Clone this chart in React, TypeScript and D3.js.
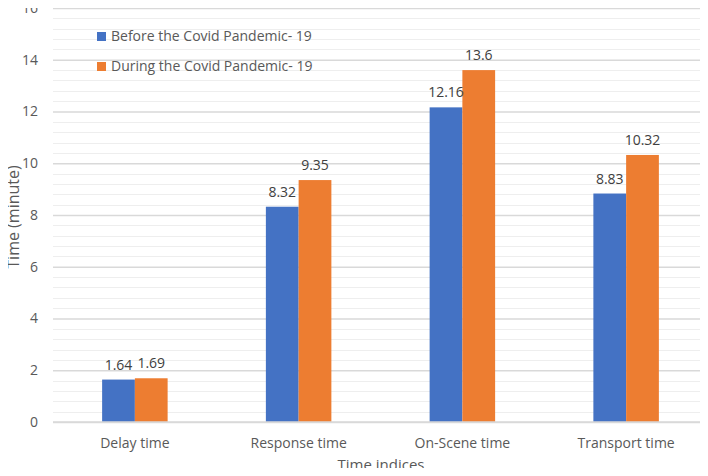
import { useEffect, useRef } from "react";
import * as d3 from "d3";

const categories = ["Delay time", "Response time", "On-Scene time", "Transport time"];
const seriesNames = ["Before the Covid Pandemic- 19", "During the Covid Pandemic- 19"];
const before = [1.64, 8.32, 12.16, 8.83];
const during = [1.69, 9.35, 13.6, 10.32];
const yTicks = [0, 2, 4, 6, 8, 10, 12, 14, 16];
const colors = ["#4472C4", "#ED7D31"];

const Chart = () => {
  const ref = useRef(null);

  useEffect(() => {
    const width = 708;
    const height = 476;
    const left = 53;
    const right = 708;
    const top = 8;
    const bottom = 422;
    const font = "'Open Sans', 'Noto Sans', sans-serif";
    const textColor = "#595959";

    d3.select(ref.current).selectAll("*").remove();
    const svg = d3
      .select(ref.current)
      .append("svg")
      .attr("width", width)
      .attr("height", height)
      .style("display", "block")
      .style("background", "#fff");

    const x = d3.scaleBand().domain(categories).range([left, right]).paddingInner(0.6).paddingOuter(0.3);
    const x1 = d3.scaleBand().domain(seriesNames).range([0, x.bandwidth()]);
    const y = d3.scaleLinear().domain([0, 16]).range([bottom, top]);

    // gridlines minori ogni 0.4
    const minor = d3.range(0, 16, 0.4).filter((v) => Math.abs(v / 2 - Math.round(v / 2)) > 0.01);
    svg
      .append("g")
      .selectAll("line")
      .data(minor)
      .join("line")
      .attr("x1", left)
      .attr("x2", right)
      .attr("y1", (d) => Math.round(y(d)) + 0.5)
      .attr("y2", (d) => Math.round(y(d)) + 0.5)
      .attr("stroke", "#EEEEEE")
      .attr("stroke-width", 1);

    // asse y
    const yAxis = d3.axisLeft(y).tickValues(yTicks).tickSize(-(right - left)).tickPadding(15);
    const gy = svg.append("g").attr("transform", `translate(${left},0)`).call(yAxis);
    gy.select(".domain").remove();
    gy.selectAll(".tick line").attr("stroke", "#D9D9D9").attr("stroke-width", 1.5);
    gy.selectAll(".tick text").attr("fill", textColor).style("font-family", font).style("font-size", "14px");

    const groups = svg
      .append("g")
      .selectAll("g")
      .data(categories)
      .join("g")
      .attr("transform", (d) => `translate(${x(d)},0)`);

    const vals = [before, during];
    groups
      .selectAll("rect")
      .data((d, i) => vals.map((s, k) => ({ k, v: s[i] })))
      .join("rect")
      .attr("x", (d) => x1(seriesNames[d.k]))
      .attr("y", (d) => y(d.v))
      .attr("width", x1.bandwidth())
      .attr("height", (d) => y(0) - y(d.v))
      .attr("fill", (d) => colors[d.k]);

    groups
      .selectAll("text")
      .data((d, i) => vals.map((s, k) => ({ k, v: s[i] })))
      .join("text")
      .attr("x", (d) => x1(seriesNames[d.k]) + x1.bandwidth() / 2)
      .attr("y", (d) => y(d.v) - 10)
      .attr("text-anchor", "middle")
      .attr("fill", "#404040")
      .style("font-family", font)
      .style("font-size", "14px")
      .text((d) => String(d.v));

    // asse x
    svg
      .append("line")
      .attr("x1", left)
      .attr("x2", right)
      .attr("y1", y(0))
      .attr("y2", y(0))
      .attr("stroke", "#D9D9D9")
      .attr("stroke-width", 1.5);

    svg
      .append("g")
      .selectAll("text")
      .data(categories)
      .join("text")
      .attr("x", (d) => x(d) + x.bandwidth() / 2)
      .attr("y", 448)
      .attr("text-anchor", "middle")
      .attr("fill", textColor)
      .style("font-family", font)
      .style("font-size", "14px")
      .text((d) => d);

    svg
      .append("text")
      .attr("x", 381)
      .attr("y", 470)
      .attr("text-anchor", "middle")
      .attr("fill", textColor)
      .style("font-family", font)
      .style("font-size", "15px")
      .text("Time indices");

    svg
      .append("text")
      .attr("transform", "translate(19,217) rotate(-90)")
      .attr("text-anchor", "middle")
      .attr("fill", textColor)
      .style("font-family", font)
      .style("font-size", "16px")
      .text("Time (minute)");

    // legenda
    const legend = svg
      .append("g")
      .selectAll("g")
      .data(seriesNames)
      .join("g")
      .attr("transform", (d, i) => `translate(97,${32 + i * 30})`);
    legend.append("rect").attr("width", 9).attr("height", 9).attr("fill", (d, i) => colors[i]);
    legend
      .append("text")
      .attr("x", 14)
      .attr("y", 9)
      .attr("fill", textColor)
      .style("font-family", font)
      .style("font-size", "14px")
      .text((d) => d);
  }, []);

  return <div ref={ref} style={{ margin: "-8px" }} />;
};

export default function App() {
  return <Chart />;
}
